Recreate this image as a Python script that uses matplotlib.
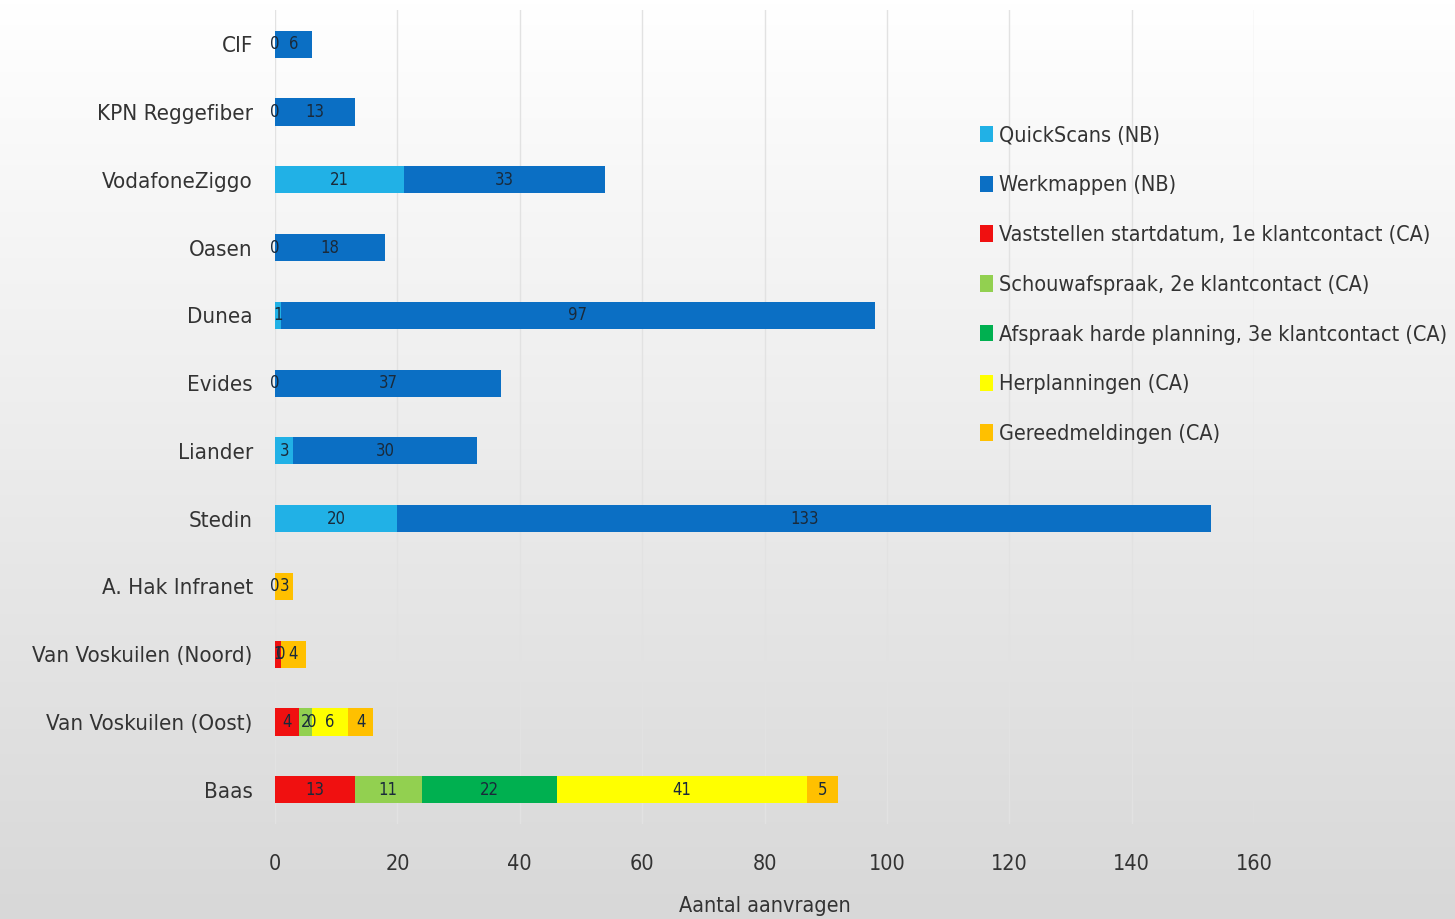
import numpy as np
import matplotlib
matplotlib.use("Agg")
import matplotlib.pyplot as plt
from matplotlib.colors import LinearSegmentedColormap

plt.rcParams['font.family'] = ['DejaVu Sans']
plt.rcParams['font.stretch'] = 'condensed'

nan = np.nan
categories = ["CIF", "KPN Reggefiber", "VodafoneZiggo", "Oasen", "Dunea", "Evides",
              "Liander", "Stedin", "A. Hak Infranet", "Van Voskuilen (Noord)",
              "Van Voskuilen (Oost)", "Baas"]
series_names = ["QuickScans (NB)", "Werkmappen (NB)",
                "Vaststellen startdatum, 1e klantcontact (CA)",
                "Schouwafspraak, 2e klantcontact (CA)",
                "Afspraak harde planning, 3e klantcontact (CA)",
                "Herplanningen (CA)", "Gereedmeldingen (CA)"]
quickscans = [0, 0, 21, 0, 1, 0, 3, 20, nan, nan, nan, nan]
werkmappen = [6, 13, 33, 18, 97, 37, 30, 133, nan, nan, nan, nan]
vaststellen = [nan, nan, nan, nan, nan, nan, nan, nan, nan, 1, 4, 13]
schouw = [nan, nan, nan, nan, nan, nan, nan, nan, nan, nan, 2, 11]
afspraak = [nan, nan, nan, nan, nan, nan, nan, nan, nan, nan, 0, 22]
herplanning = [nan, nan, nan, nan, nan, nan, nan, nan, 0, 0, 6, 41]
gereed = [nan, nan, nan, nan, nan, nan, nan, nan, 3, 4, 4, 5]
series = [quickscans, werkmappen, vaststellen, schouw, afspraak, herplanning, gereed]
colors = ["#21B1E6", "#0B6FC4", "#F01010", "#92D050", "#00B050", "#FFFF00", "#FFC000"]

fig = plt.figure(figsize=(14.55, 9.19), dpi=100)
bg = fig.add_axes([0, 0, 1, 1], zorder=-10)
grad = np.linspace(0, 1, 256).reshape(-1, 1)
cmap = LinearSegmentedColormap.from_list("bg", ["#ffffff", "#d8d8d8"])
bg.imshow(grad, aspect="auto", cmap=cmap, extent=[0, 1, 0, 1], origin="upper")
bg.axis("off")

ax = fig.add_axes([0.189, 0.1037, 0.673, 0.885])
ax.patch.set_alpha(0)
y = np.arange(len(categories))
left = np.zeros(len(categories))
for vals, col, name in zip(series, colors, series_names):
    v = np.array(vals, dtype=float)
    w = np.nan_to_num(v)
    ax.barh(y, w, left=left, height=0.4, color=col, label=name, zorder=3)
    for i, val in enumerate(v):
        if not np.isnan(val):
            ax.text(left[i] + w[i] / 2, y[i], f"{int(val)}", ha="center", va="center",
                    fontsize=12, color="#1a2a3a", zorder=4)
    left += w

ax.set_xlim(0, 160)
ax.set_ylim(len(categories) - 0.5, -0.5)
ax.set_xticks(range(0, 161, 20))
ax.set_yticks(y)
ax.set_yticklabels(categories, fontsize=16, color="#333333")
ax.tick_params(axis="x", labelsize=15.5, colors="#333333", length=0, pad=22)
ax.tick_params(axis="y", length=0, pad=16)
ax.grid(axis="x", color="#e2e2e2", linewidth=1, zorder=0)
for s in ax.spines.values():
    s.set_visible(False)
ax.set_xlabel("Aantal aanvragen", fontsize=15.5, color="#333333", labelpad=16)

leg = ax.legend(loc="upper left", bbox_to_anchor=(0.7, 0.882), frameon=False,
                fontsize=15.5, handlelength=0.6, handleheight=0.8, handletextpad=0.3,
                labelspacing=1.38, labelcolor="#333333")

fig.savefig("out.png", dpi=100)
